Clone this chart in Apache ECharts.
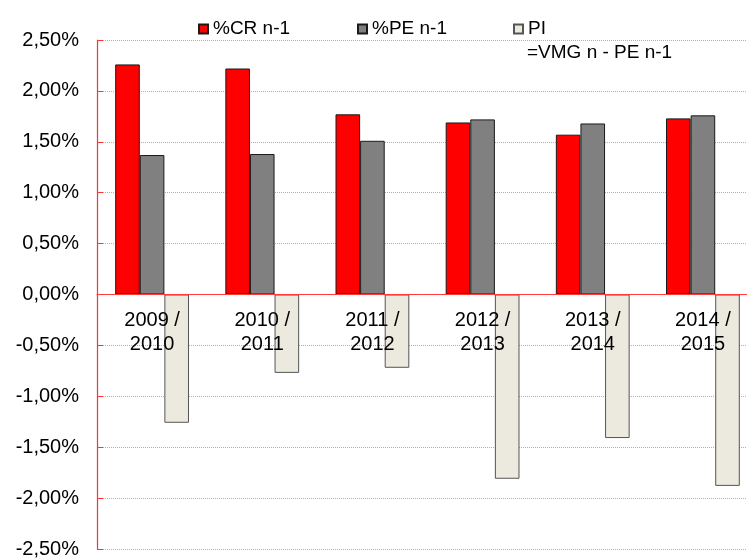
<!DOCTYPE html>
<html>
<head>
<meta charset="utf-8">
<script src="https://cdn.jsdelivr.net/npm/echarts@6/dist/echarts.min.js"></script>
<style>html,body{margin:0;padding:0;background:#fff}#c{width:747px;height:559px}</style>
</head>
<body>
<div id="c"></div>
<script>
const categories = ['2009 /\n2010', '2010 /\n2011', '2011 /\n2012', '2012 /\n2013', '2013 /\n2014', '2014 /\n2015'];
const crValues = [2.26, 2.22, 1.77, 1.69, 1.57, 1.73];
const peValues = [1.37, 1.38, 1.51, 1.72, 1.68, 1.76];
const piValues = [-1.26, -0.77, -0.72, -1.81, -1.41, -1.88];
const yTicks = { min: -2.5, max: 2.5, interval: 0.5 };
const seriesNames = ['%CR n-1', '%PE n-1', 'PI'];
const piSubtitle = '=VMG n - PE n-1';

const FONT = "'Liberation Sans', Arial, sans-serif";
const chart = echarts.init(document.getElementById('c'), null, { renderer: 'canvas' });

function legendAt(name, left) {
  return {
    data: [name], left: left, top: 17, padding: 0, orient: 'horizontal',
    itemWidth: 9, itemHeight: 9, itemGap: 5, icon: 'rect', selectedMode: false,
    textStyle: { fontFamily: FONT, fontSize: 19, color: '#000', lineHeight: 24 }
  };
}

chart.setOption({
  animation: false,
  backgroundColor: '#fff',
  legend: [legendAt(seriesNames[0], 198), legendAt(seriesNames[1], 357), legendAt(seriesNames[2], 513)],
  graphic: [{
    type: 'text', left: 527, top: 43, z: 10,
    style: { text: piSubtitle, font: "19px 'Liberation Sans', Arial, sans-serif", fill: '#000' }
  }],
  grid: { left: 97, top: 40, width: 661, height: 509, containLabel: false, outerBoundsMode: 'none' },
  xAxis: {
    type: 'category', data: categories, z: 3,
    axisLine: { onZero: true, lineStyle: { color: '#ff3b3b', width: 1 } },
    axisTick: { show: false },
    axisLabel: { show: false },
    splitLine: { show: false }
  },
  yAxis: {
    type: 'value', min: yTicks.min, max: yTicks.max, interval: yTicks.interval,
    axisLine: { show: true, lineStyle: { color: '#ff3030', width: 1.2 } },
    axisTick: { show: true, inside: true, length: 6, lineStyle: { color: '#ff3030' } },
    axisLabel: {
      fontFamily: FONT, fontSize: 20, color: '#000', margin: 18,
      formatter: v => v.toFixed(2).replace('.', ',') + '%'
    },
    splitLine: { show: true, lineStyle: { color: '#b0b0b0', type: 'dotted', width: 1 } }
  },
  series: [
    { name: seriesNames[0], type: 'bar', data: crValues, barGap: '0%', barCategoryGap: '33%',
      itemStyle: { color: '#ff0000', borderColor: '#1a1a1a', borderWidth: 1 } },
    { name: seriesNames[1], type: 'bar', data: peValues, barGap: '0%', barCategoryGap: '33%',
      itemStyle: { color: '#808080', borderColor: '#1a1a1a', borderWidth: 1 } },
    { name: seriesNames[2], type: 'bar', data: piValues, barGap: '0%', barCategoryGap: '33%',
      itemStyle: { color: '#ece9df', borderColor: '#555', borderWidth: 1 } },
    { name: 'labels', type: 'scatter', z: 5, silent: true, symbolSize: 0,
      itemStyle: { opacity: 1 },
      data: categories.map(c => [c, 0]),
      label: { show: true, position: 'bottom', distance: 14, formatter: p => p.value[0], opacity: 1,
        fontFamily: FONT, fontSize: 20, color: '#000', lineHeight: 24, align: 'center' } }
  ]
});
</script>
</body>
</html>
